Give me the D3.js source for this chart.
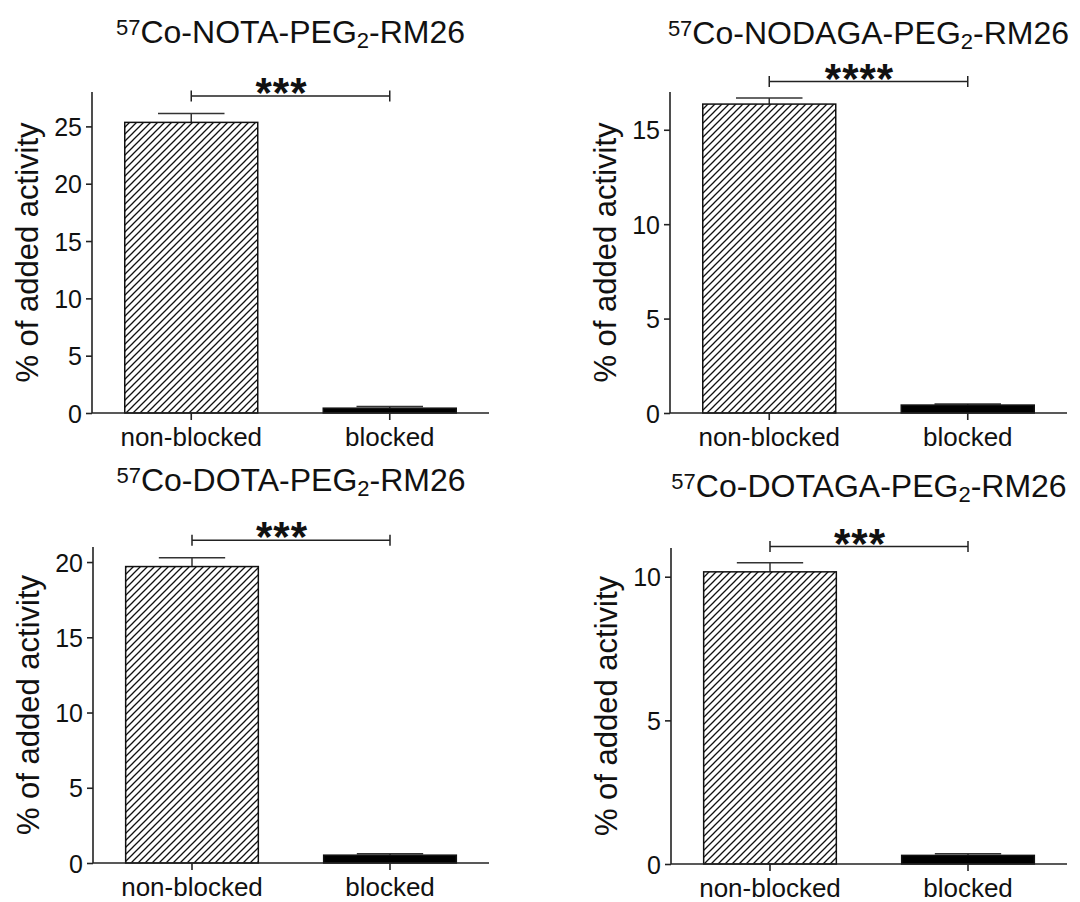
<!DOCTYPE html>
<html>
<head>
<meta charset="utf-8">
<script src="https://cdn.jsdelivr.net/npm/d3@7"></script>
<style>
body { margin: 0; background: #fff; }
text { font-family: Arial, "Liberation Sans", sans-serif; fill: #111; }
</style>
</head>
<body>
<div id="view"></div>
<script>
var width = 1080, height = 902;

// data
var categories = ["non-blocked", "blocked"];
var chelators = ["NOTA", "NODAGA", "DOTA", "DOTAGA"];
var means = [[25.35, 0.42], [16.36, 0.42], [19.7, 0.52], [10.17, 0.30]];
var errors = [[0.78, 0.15], [0.32, 0.06], [0.58, 0.10], [0.32, 0.06]];
var yMax = [28, 17, 21, 11];
var yTicks = [[0, 5, 10, 15, 20, 25], [0, 5, 10, 15], [0, 5, 10, 15, 20], [0, 5, 10]];
var stars = ["***", "****", "***", "***"];
var bracketAt = [27.65, 17.55, 21.45, 11.05];

// panel layout (left, top, right, bottom, title baseline)
var panels = [
	{ x0: 92, y0: 92, x1: 489, y1: 413, ty: 43 },
	{ x0: 670, y0: 92, x1: 1067, y1: 413, ty: 44 },
	{ x0: 93, y0: 547, x1: 489, y1: 863, ty: 491 },
	{ x0: 671, y0: 548, x1: 1067, y1: 864, ty: 497 }
];

var svg = d3.select("#view").append("svg")
	.attr("width", width)
	.attr("height", height);

// hatch pattern
var pat = svg.append("defs").append("pattern")
	.attr("id", "hatch")
	.attr("patternUnits", "userSpaceOnUse")
	.attr("width", 7).attr("height", 7);
pat.append("rect").attr("width", 7).attr("height", 7).attr("fill", "#fff");
pat.append("path")
	.attr("d", "M0,7 L7,0 M-1,1 L1,-1 M6,8 L8,6")
	.attr("stroke", "#111")
	.attr("stroke-width", 1.3);

for (var i = 0; i < panels.length; i++) {
	drawPanel(i);
}

function drawPanel(i) {
	var p = panels[i];
	var g = svg.append("g");

	var x = d3.scaleBand()
		.domain(categories)
		.range([p.x0, p.x1])
		.paddingInner(0.33)
		.paddingOuter(0.165);
	var y = d3.scaleLinear()
		.domain([0, yMax[i]])
		.range([p.y1, p.y0]);

	var rows = categories.map(function(c, j) {
		return { cat: c, v: means[i][j], e: errors[i][j] };
	});

	// error bars (upper only)
	var capW = x.bandwidth() / 2;
	rows.forEach(function(d) {
		var cx = x(d.cat) + x.bandwidth() / 2;
		g.append("line")
			.attr("x1", cx).attr("x2", cx)
			.attr("y1", y(d.v)).attr("y2", y(d.v + d.e))
			.attr("stroke", "#333").attr("stroke-width", 1.5);
		g.append("line")
			.attr("x1", cx - capW / 2).attr("x2", cx + capW / 2)
			.attr("y1", y(d.v + d.e)).attr("y2", y(d.v + d.e))
			.attr("stroke", "#333").attr("stroke-width", 1.5);
	});

	// bars
	g.selectAll(".bar")
		.data(rows).enter()
		.append("rect")
		.attr("class", "bar")
		.attr("x", function(d) { return x(d.cat); })
		.attr("y", function(d) { return y(d.v); })
		.attr("width", x.bandwidth())
		.attr("height", function(d) { return y(0) - y(d.v); })
		.attr("fill", function(d, j) { return j == 0 ? "url(#hatch)" : "#000"; })
		.attr("stroke", "#111")
		.attr("stroke-width", 1.5);

	// axes
	var yAxis = g.append("g")
		.attr("transform", "translate(" + p.x0 + ",0)")
		.call(d3.axisLeft(y).tickValues(yTicks[i]).tickSize(6).tickPadding(4).tickFormat(d3.format("d")));
	var xAxis = g.append("g")
		.attr("transform", "translate(0," + p.y1 + ")")
		.call(d3.axisBottom(x).tickSize(7).tickPadding(8).tickSizeOuter(0));
	[yAxis, xAxis].forEach(function(a) {
		a.select(".domain").attr("stroke", "#222").attr("stroke-width", 1.6);
		a.selectAll(".tick line").attr("stroke", "#222").attr("stroke-width", 1.6);
		a.selectAll("text").attr("fill", "#111").style("font-family", "Arial, 'Liberation Sans', sans-serif");
	});
	yAxis.select(".domain").attr("d", "M0," + p.y1 + "V" + p.y0);
	xAxis.select(".domain").attr("d", "M" + p.x0 + ",0H" + p.x1);
	yAxis.selectAll(".tick text").style("font-size", "25px").attr("dy", "0.36em");
	xAxis.selectAll(".tick text").style("font-size", "26px").attr("dy", "0.71em");

	// y label
	g.append("text")
		.attr("transform", "translate(" + (p.x0 - 54) + "," + ((p.y0 + p.y1) / 2) + ") rotate(-90)")
		.attr("text-anchor", "middle")
		.style("font-size", "31px")
		.text("% of added activity");

	// title
	var t = g.append("text")
		.attr("x", (p.x0 + p.x1) / 2)
		.attr("y", p.ty)
		.attr("text-anchor", "middle")
		.style("font-size", "32px");
	t.append("tspan").attr("baseline-shift", "36%").style("font-size", "22px").text("57");
	t.append("tspan").text("Co-" + chelators[i] + "-PEG");
	t.append("tspan").attr("baseline-shift", "-22%").style("font-size", "22px").text("2");
	t.append("tspan").text("-RM26");

	// significance bracket
	var bx0 = x(categories[0]) + x.bandwidth() / 2;
	var bx1 = x(categories[1]) + x.bandwidth() / 2;
	var by = y(bracketAt[i]);
	g.append("path")
		.attr("d", "M" + bx0 + "," + by + "H" + bx1 +
			"M" + bx0 + "," + (by - 5.5) + "V" + (by + 5.5) +
			"M" + bx1 + "," + (by - 5.5) + "V" + (by + 5.5))
		.attr("fill", "none")
		.attr("stroke", "#222")
		.attr("stroke-width", 1.5);
	g.append("text")
		.attr("x", (bx0 + bx1) / 2 - 9)
		.attr("y", by + 11)
		.attr("text-anchor", "middle")
		.style("font-size", "42px")
		.style("font-weight", "bold")
		.style("letter-spacing", "1px")
		.text(stars[i]);
}
</script>
</body>
</html>
